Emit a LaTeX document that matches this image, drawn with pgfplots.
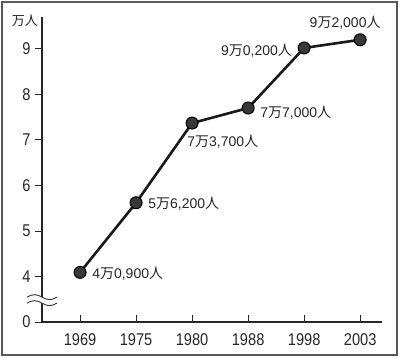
\documentclass[border=0pt]{standalone}
\usepackage{pgfplots}
\pgfplotsset{compat=1.18}
\usepackage{fontspec}
\setmainfont{Liberation Sans}
\newfontfamily\narrow{Liberation Sans}[FakeStretch=0.86]
\newfontfamily\cjk{Noto Sans CJK JP}
\newcommand\lab[2]{#1{\cjk 万}#2{\cjk 人}}
\begin{document}
\begin{tikzpicture}[x=1pt,y=1pt]
\begin{axis}[
  scale only axis, width=340pt, height=305pt,
  xmin=-0.68, xmax=5.39, ymin=3, ymax=9.7,
  clip=false,
  axis lines=left,
  axis line style={-, line width=1.1pt, black!85},
  xtick={0,1,2,3,4,5},
  xticklabels={1969,1975,1980,1988,1998,2003},
  ytick={3,4,5,6,7,8,9},
  yticklabels={0,4,5,6,7,8,9},
  tick align=outside,
  major tick length=7pt,
  tick style={line width=0.9pt, black!85},
  xtick style={yshift=7pt},
  tick label style={font=\narrow\fontsize{17}{20}\selectfont, text=black!85},
  yticklabel style={xshift=-1pt},
  xticklabel style={yshift=-1pt},
  /pgf/number format/assume math mode=true,
]
\addplot[line width=2.6pt, black!90,
  mark=*, mark size=6pt,
  mark options={fill=black!78, draw=black, line width=1pt}]
  coordinates {(0,4.09) (1,5.62) (2,7.37) (3,7.70) (4,9.02) (5,9.20)};
\begin{scope}[every node/.style={font=\fontsize{14}{17}\selectfont, text=black!85, inner sep=0pt}]
\node[anchor=west] at ([xshift=12pt,yshift=-1pt]axis cs:0,4.09) {\lab{4}{0,900}};
\node[anchor=west] at ([xshift=12pt,yshift=-1pt]axis cs:1,5.62) {\lab{5}{6,200}};
\node[anchor=north west] at ([xshift=-5pt,yshift=-12pt]axis cs:2,7.37) {\lab{7}{3,700}};
\node[anchor=west] at ([xshift=12pt,yshift=-5pt]axis cs:3,7.70) {\lab{7}{7,000}};
\node[anchor=east] at ([xshift=-12pt,yshift=-3pt]axis cs:4,9.02) {\lab{9}{0,200}};
\node[anchor=south] at ([xshift=-15pt,yshift=10pt]axis cs:5,9.20) {\lab{9}{2,000}};
\end{scope}
\coordinate (brk) at (axis cs:-0.68,3.48);
\end{axis}
\fill[white] ([shift={(-15,-3)}]brk) rectangle ([shift={(15,3)}]brk);
\draw[line width=0.9pt, black!80] ([shift={(-15,-3)}]brk) ++(0,6) sin ++(7.5,2.5) cos ++(7.5,-2.5) sin ++(7.5,-2.5) cos ++(7.5,2.5);
\draw[line width=0.9pt, black!80] ([shift={(-15,-3)}]brk) sin ++(7.5,2.5) cos ++(7.5,-2.5) sin ++(7.5,-2.5) cos ++(7.5,2.5);
\node[anchor=north east, inner sep=0pt, font=\cjk\fontsize{13}{15}\selectfont, text=black!85]
  at ([shift={(-4,2)}]current axis.north west) {万人};
\draw[line width=1.2pt, black!65] ([shift={(-40,-33)}]current axis.south west) rectangle ([shift={(15,15)}]current axis.north east);
\path ([shift={(-42,-36)}]current axis.south west) rectangle ([shift={(18,17)}]current axis.north east);
\end{tikzpicture}
\end{document}
